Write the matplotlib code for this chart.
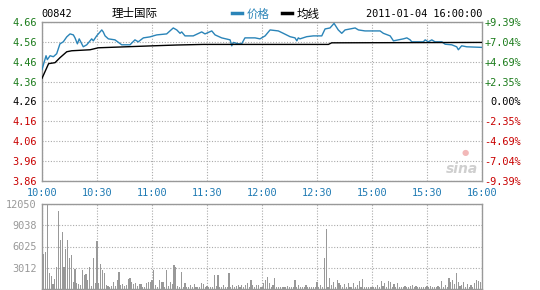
import matplotlib
matplotlib.use("Agg")
import matplotlib.pyplot as plt
import numpy as np

# ---------------- data ----------------
code = "00842"
name = "理士国际"
stamp = "2011-01-04 16:00:00"
prev_close = 4.26
price_ticks = [3.86, 3.96, 4.06, 4.16, 4.26, 4.36, 4.46, 4.56, 4.66]
time_labels = ["10:00", "10:30", "11:00", "11:30", "12:00", "12:30", "15:00", "15:30", "16:00"]
vol_ticks = [3012, 6025, 9038, 12050]

# price line vertices (trading minute, price)
price_min = [0, 2.2, 2.9, 4.4, 6.2, 8.0, 9.8, 11.6, 13.5, 15.3, 17.1, 18, 19.3, 20.3, 22.5,
             24.4, 27.1, 28, 29.8, 32.6, 33.4, 34.4, 36.2, 39.8, 43.5, 48, 50.7, 52.5, 55.3,
             58.9, 60.7, 62.6, 68, 71.6, 73.5, 75.3, 76.2, 78, 82.5, 87.1, 88.9, 92.6, 94.4,
             98, 102.6, 103.5, 104.4, 107.1, 108.9, 110.7, 114.4, 116.2, 118.9, 121.7, 124.4,
             128.9, 131.6, 135.3, 138, 139, 139.8, 140.7, 144.4, 148, 152.6, 154.4, 157.1,
             159.3, 161.6, 163.5, 165.3, 170.8, 172.6, 176.2, 184.4, 186.2, 189.9, 191.7,
             197.1, 199, 200.8, 201.7, 208, 209, 210.7, 212.6, 214.4, 218.1, 219.9, 223.5,
             226.2, 227.1, 228.9, 231.7, 240]
price_val = [4.42, 4.49, 4.47, 4.49, 4.485, 4.50, 4.55, 4.56, 4.585, 4.60, 4.595, 4.58, 4.55,
             4.575, 4.535, 4.545, 4.575, 4.565, 4.59, 4.62, 4.61, 4.59, 4.575, 4.57, 4.545,
             4.545, 4.57, 4.56, 4.58, 4.585, 4.59, 4.595, 4.60, 4.63, 4.62, 4.603, 4.61, 4.59,
             4.59, 4.61, 4.60, 4.615, 4.595, 4.58, 4.57, 4.54, 4.557, 4.55, 4.55, 4.58, 4.58,
             4.58, 4.575, 4.59, 4.62, 4.615, 4.603, 4.586, 4.58, 4.565, 4.58, 4.575, 4.586,
             4.59, 4.59, 4.625, 4.63, 4.653, 4.62, 4.603, 4.62, 4.63, 4.62, 4.615, 4.615,
             4.603, 4.59, 4.565, 4.575, 4.58, 4.57, 4.56, 4.56, 4.57, 4.56, 4.57, 4.56, 4.56,
             4.548, 4.545, 4.535, 4.52, 4.54, 4.535, 4.532]

# average price line vertices
avg_min = [0, 3.6, 7.1, 9.8, 13.5, 16.2, 26.2, 30.7, 60.7, 73.5, 87.8, 156.2, 158, 240]
avg_val = [4.376, 4.45, 4.455, 4.48, 4.51, 4.515, 4.52, 4.53, 4.54, 4.544, 4.547, 4.547,
           4.555, 4.557]

# per-minute volume
volume = [4950, 5240, 11950, 2190, 1810, 670, 1330, 3050, 11090, 6950, 8140, 3050, 5620, 6950,
          4330, 4810, 950, 2760, 860, 620, 520, 2670, 1950, 2050, 1240, 3050, 430, 4330, 760,
          6850, 860, 3520, 2670, 2190, 520, 380, 290, 380, 950, 330, 1240, 2380, 520, 620, 380,
          520, 1330, 1570, 1000, 620, 860, 380, 620, 620, 290, 290, 860, 950, 1000, 1240, 2670,
          520, 290, 1240, 1000, 950, 290, 2670, 380, 1000, 620, 3330, 3050, 380, 290, 2430,
          290, 760, 290, 290, 520, 290, 620, 290, 290, 290, 860, 620, 290, 380, 290, 290, 290,
          1900, 380, 1900, 290, 290, 520, 290, 290, 2280, 290, 520, 290, 380, 520, 290, 480,
          290, 520, 760, 290, 1240, 520, 290, 520, 480, 290, 290, 760, 1240, 1620,
          760, 290, 520, 1480, 190, 190, 290, 190, 290, 290, 380, 190, 190, 290, 1240, 290, 480,
          190, 190, 290, 480, 190, 190, 190, 190, 190, 950, 190, 480, 290,
          4330, 8520, 290,
          1480, 520, 1000, 290, 1240, 860, 520, 290, 620, 290, 760, 190, 290, 760, 190, 480,
          1050, 290, 1330, 190, 290, 190, 290, 190, 290, 190, 520, 290, 1050, 380, 860, 290,
          1140, 950, 290, 670, 290, 860, 190, 290, 190, 380, 190, 190, 380, 520, 290, 380, 190,
          290, 190, 190, 290, 380, 190, 380, 190, 290, 190, 380, 290, 1140, 290, 520, 290, 1480,
          950, 1240, 670, 2190, 950, 380, 520, 950, 290, 670, 290, 520, 190, 760, 1240, 1140, 950]

# ---------------- style ----------------
W, H = 540, 290
mono = "DejaVu Sans Mono"
cjk = ["Noto Sans CJK SC", "DejaVu Sans"]
c_up, c_dn, c_flat = "#1c7c1c", "#c80000", "#000000"
c_time = "#1f7ab3"
c_line = "#2a84b8"
c_grid = "#aaaaaa"
c_border = "#999999"
fs = 7.4

fig = plt.figure(figsize=(W / 100, H / 100), dpi=100)
fig.patch.set_facecolor("white")

def frac(x0, y0, x1, y1):
    return [x0 / W, 1 - y1 / H, (x1 - x0) / W, (y1 - y0) / H]

ax = fig.add_axes(frac(42, 22, 482, 180.7))
axv = fig.add_axes(frac(42, 204.3, 482, 288.7))

n_min = 240
grid_x = np.arange(0, n_min + 1, 30)

def level_color(p):
    if p > prev_close + 1e-9:
        return c_up
    if p < prev_close - 1e-9:
        return c_dn
    return c_flat

# price panel
ax.plot(price_min, price_val, color=c_line, lw=1.0, zorder=3)
ax.plot(avg_min, avg_val, color="black", lw=1.0, zorder=3)
ax.set_xlim(0, n_min)
ax.set_ylim(price_ticks[0], price_ticks[-1])
ax.set_yticks(price_ticks)
ax.set_xticks(grid_x)
ax.set_xticklabels(time_labels)
ax.grid(True, color=c_grid, ls=(0, (1, 1.5)), lw=0.8)
ax.tick_params(length=0, pad=4)
ax.set_yticklabels([f"{p:.2f}" for p in price_ticks])
for lab, p in zip(ax.get_yticklabels(), price_ticks):
    lab.set_fontfamily(mono)
    lab.set_fontsize(fs)
    lab.set_color(level_color(p))
for lab in ax.get_xticklabels():
    lab.set_fontfamily(mono)
    lab.set_fontsize(fs)
    lab.set_color(c_time)
ax.tick_params(axis="x", pad=5)
for s in ax.spines.values():
    s.set_color(c_border)
    s.set_linewidth(1.0)

axr = ax.twinx()
axr.set_ylim(ax.get_ylim())
axr.set_yticks(price_ticks)
pct_labels = []
for p in price_ticks:
    pc = (p - prev_close) / prev_close * 100
    pct_labels.append("0.00%" if abs(pc) < 1e-9 else f"{pc:+.2f}%")
axr.set_yticklabels(pct_labels)
for lab, p in zip(axr.get_yticklabels(), price_ticks):
    lab.set_fontfamily(mono)
    lab.set_fontsize(fs)
    lab.set_color(level_color(p))
    lab.set_horizontalalignment("right")
axr.tick_params(length=0, pad=28)
for s in axr.spines.values():
    s.set_visible(False)

# sina mark
ax.text(0.955, 0.075, "sina", transform=ax.transAxes, ha="center", va="center",
        fontsize=10, fontstyle="italic", fontweight="bold", color="#cfcfcf", zorder=1)
ax.text(0.962, 0.175, "●", transform=ax.transAxes, ha="center", va="center",
        fontsize=6, color="#f2b8b8", zorder=1)

# volume panel
vx = np.arange(1, len(volume) + 1)
axv.bar(vx, volume, width=0.55, color="#999999", zorder=3)
axv.set_xlim(0, n_min)
axv.set_ylim(0, vol_ticks[-1])
axv.set_yticks(vol_ticks)
axv.set_yticklabels([str(v) for v in vol_ticks])
axv.set_xticks(grid_x)
axv.set_xticklabels([])
axv.grid(True, color=c_grid, ls=(0, (1, 1.5)), lw=0.8)
axv.tick_params(length=0, pad=4)
for lab in axv.get_yticklabels():
    lab.set_fontfamily(mono)
    lab.set_fontsize(fs)
    lab.set_color("#999999")
for s in axv.spines.values():
    s.set_color(c_border)
    s.set_linewidth(1.0)

# header
def fx(x):
    return x / W

def fy(y):
    return 1 - y / H

fig.text(fx(41), fy(14), code, fontfamily=mono, fontsize=fs, va="center", ha="left", color="black")
fig.text(fx(112), fy(14), name, fontfamily=cjk, fontsize=8.3, va="center", ha="left", color="black")
fig.add_artist(plt.Line2D([fx(232), fx(242)], [fy(13), fy(13)], color=c_line, lw=2.5))
fig.text(fx(247), fy(14), "价格", fontfamily=cjk, fontsize=8.3, va="center", ha="left", color=c_line)
fig.add_artist(plt.Line2D([fx(282), fx(292)], [fy(13), fy(13)], color="black", lw=2.5))
fig.text(fx(297), fy(14), "均线", fontfamily=cjk, fontsize=8.3, va="center", ha="left", color="black")
fig.text(fx(482), fy(14), stamp, fontfamily=mono, fontsize=fs, va="center", ha="right", color="black")

fig.savefig("out.png", dpi=100, facecolor="white")
